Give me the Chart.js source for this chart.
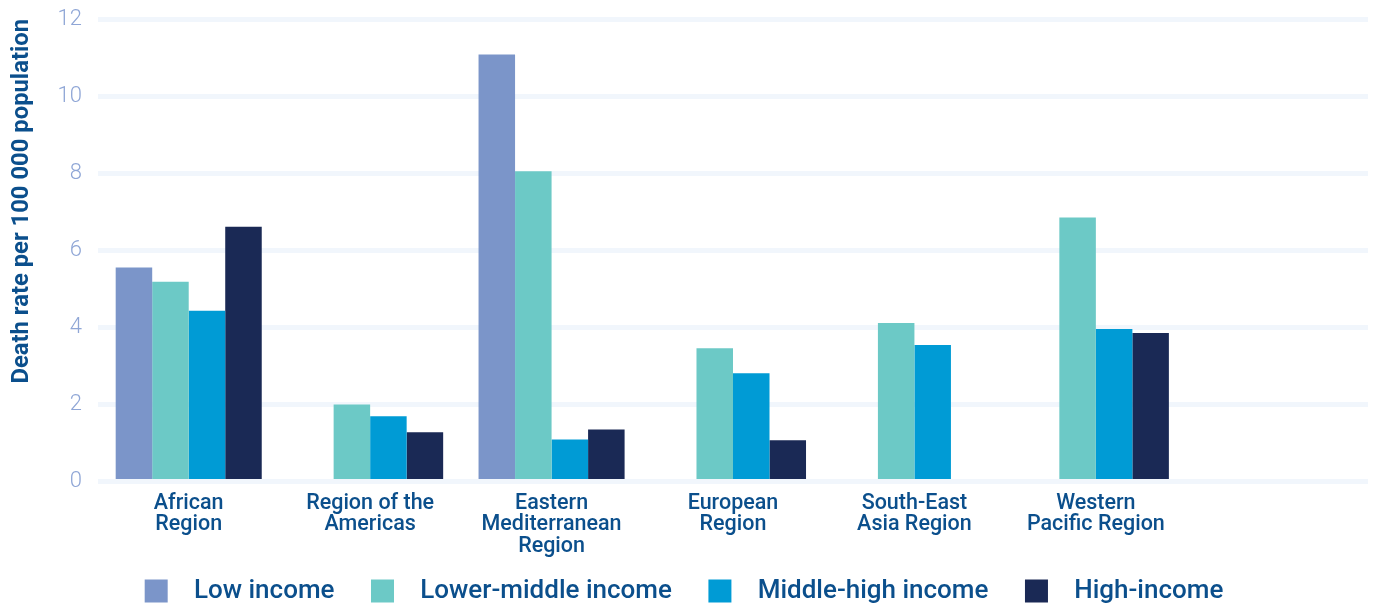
<!DOCTYPE html>
<html>
<head>
<meta charset="utf-8">
<script src="https://cdn.jsdelivr.net/npm/chart.js@4/dist/chart.umd.min.js"></script>
<style>
  html, body { margin: 0; padding: 0; background: #fff; }
  #wrap { width: 1375px; height: 606px; }
</style>
</head>
<body>
<div id="wrap"><canvas id="death-chart"></canvas></div>
<script>
// Death rate by WHO region and income group

const regions = [
  ['African', 'Region'],
  ['Region of the', 'Americas'],
  ['Eastern', 'Mediterranean', 'Region'],
  ['European', 'Region'],
  ['South-East', 'Asia Region'],
  ['Western', 'Pacific Region'],
  ''
];

const lowIncome = [5.55, null, 11.08, null, null, null, null];
const lowerMiddleIncome = [5.18, 2.0, 8.05, 3.46, 4.11, 6.85, null];
const middleHighIncome = [4.43, 1.69, 1.09, 2.81, 3.54, 3.96, null];
const highIncome = [6.61, 1.28, 1.35, 1.07, null, 3.85, null];

const yTicks = [0, 2, 4, 6, 8, 10, 12];

const textBlue = '#0b4f8c';

const data = {
  labels: regions,
  datasets: [
    { label: 'Low income', data: lowIncome, backgroundColor: '#7b95c9' },
    { label: 'Lower-middle income', data: lowerMiddleIncome, backgroundColor: '#6cc9c6' },
    { label: 'Middle-high income', data: middleHighIncome, backgroundColor: '#009bd5' },
    { label: 'High-income', data: highIncome, backgroundColor: '#1a2955' }
  ]
};

const config = {
  type: 'bar',
  data: data,
  options: {
    responsive: true,
    maintainAspectRatio: false,
    animation: false,
    layout: {
      padding: { top: 19, right: 7, left: 0, bottom: -8 }
    },
    datasets: {
      bar: {
        categoryPercentage: 0.805,
        barPercentage: 1.0,
        borderWidth: 0
      }
    },
    scales: {
      x: {
        grid: { display: false, drawTicks: false },
        border: { display: false },
        ticks: {
          color: textBlue,
          padding: 11,
          maxRotation: 0,
          autoSkip: false,
          font: { family: 'Roboto', size: 21.5, weight: 500, lineHeight: 1.0 }
        }
      },
      y: {
        min: 0,
        max: 12,
        afterBuildTicks: (axis) => {
          axis.ticks = yTicks.map(v => ({ value: v }));
        },
        afterFit: (scale) => {
          scale.width = 98;
          scale.paddingTop = 0;
        },
        grid: { color: '#f1f6fc', lineWidth: 5, drawTicks: false },
        border: { display: false },
        ticks: {
          color: '#8fa6d6',
          padding: 16,
          font: { family: 'Roboto', size: 22, weight: 300 }
        },
        title: {
          display: true,
          text: 'Death rate per 100 000 population',
          align: 'end',
          color: textBlue,
          padding: { top: 8, bottom: 0 },
          font: { family: 'Roboto', size: 23.8, weight: 'bold' }
        }
      }
    },
    plugins: {
      tooltip: { enabled: false },
      legend: {
        position: 'bottom',
        labels: {
          boxWidth: 23,
          boxHeight: 23,
          padding: 10,
          color: textBlue,
          font: { family: 'Roboto', size: 26, weight: 500 },
          generateLabels: (chart) => {
            const items = Chart.defaults.plugins.legend.labels.generateLabels(chart);
            // extra room between box and text, and between items
            items.forEach((it, i) => {
              it.text = '\u2002' + it.text + (i < items.length - 1 ? '\u2003' : '');
            });
            return items;
          }
        }
      }
    }
  }
};

const deathChart = new Chart(document.getElementById('death-chart'), config);
</script>
</body>
</html>
